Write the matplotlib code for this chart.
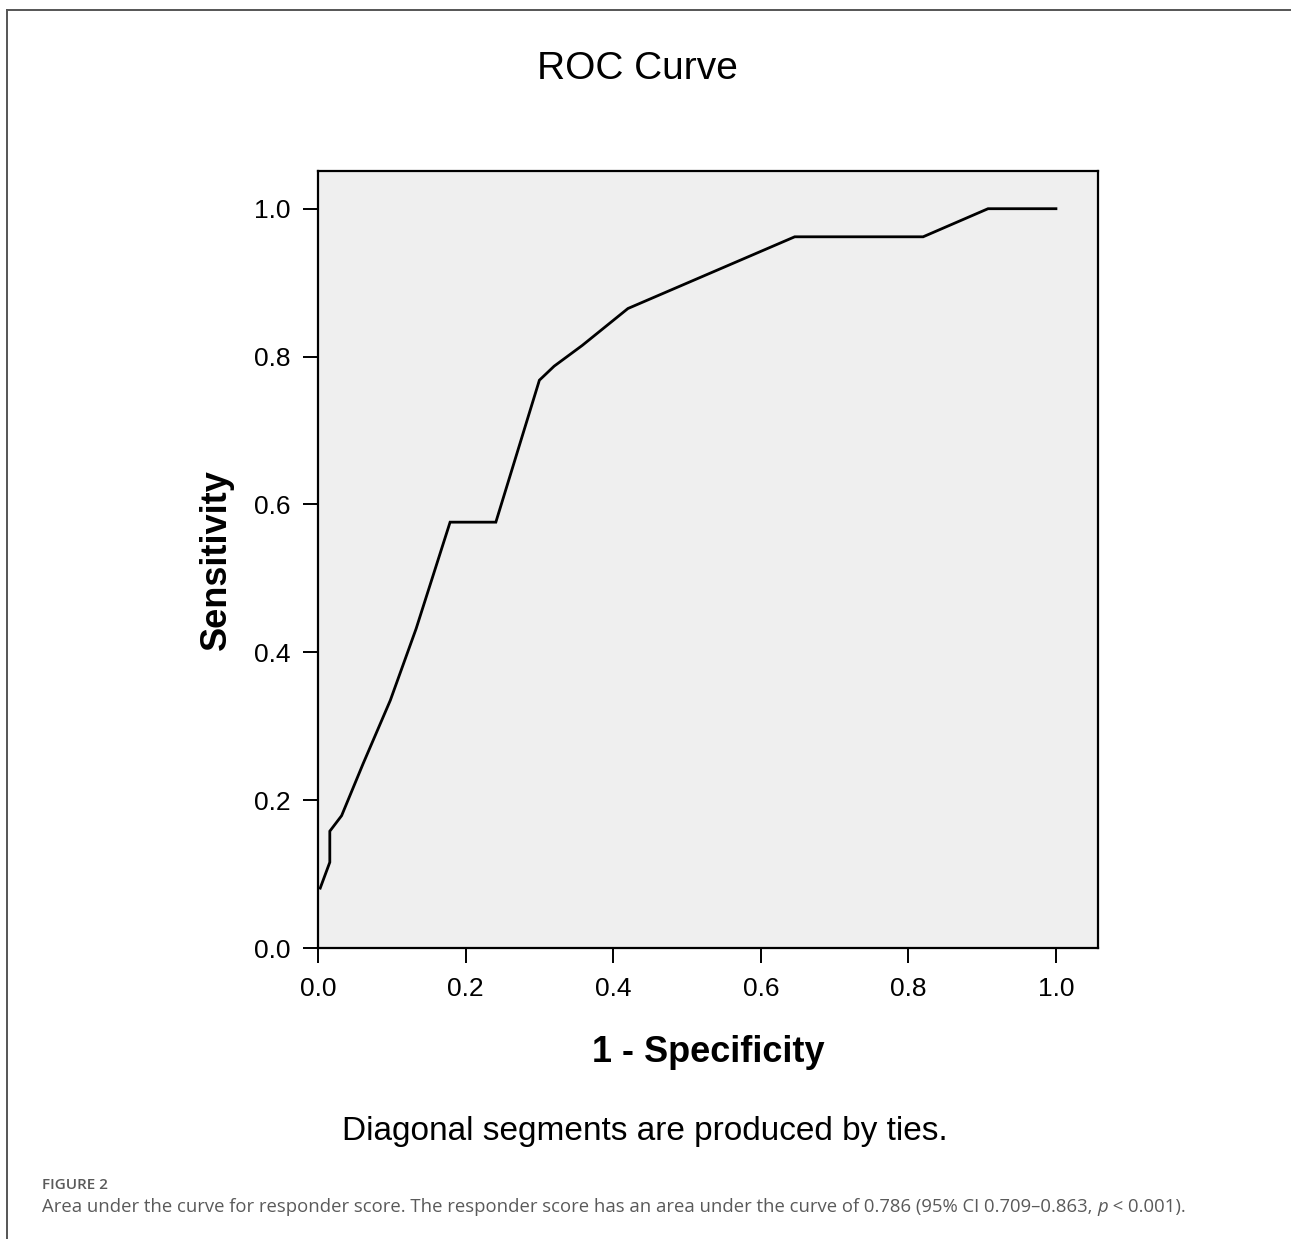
import matplotlib
matplotlib.use("Agg")
import matplotlib.pyplot as plt
from matplotlib.lines import Line2D

# ROC curve points
fpr = [0.003, 0.016, 0.016, 0.032, 0.061, 0.098, 0.133, 0.179, 0.241,
       0.300, 0.320, 0.358, 0.420, 0.646, 0.820, 0.908, 1.000]
tpr = [0.081, 0.116, 0.158, 0.179, 0.249, 0.335, 0.432, 0.576, 0.576,
       0.768, 0.787, 0.815, 0.865, 0.962, 0.962, 1.000, 1.000]

ticks = [0.0, 0.2, 0.4, 0.6, 0.8, 1.0]
tick_labels = ["0.0", "0.2", "0.4", "0.6", "0.8", "1.0"]

title = "ROC Curve"
xlabel = "1 - Specificity"
ylabel = "Sensitivity"
footnote = "Diagonal segments are produced by ties."
fig_tag = "FIGURE 2"
caption = ("Area under the curve for responder score. The responder score has an area "
           "under the curve of 0.786 (95% CI 0.709\u20130.863, ")

W, H = 1291, 1239
plt.rcParams['font.family'] = ['Liberation Sans', 'DejaVu Sans']

fig = plt.figure(figsize=(W / 100, H / 100), dpi=100)


def fx(px):
    return px / W


def fy(py):
    return 1 - py / H


# axes box in pixels: left 318, right 1098, top 171, bottom 948
ax = fig.add_axes([fx(318), fy(948), (1098 - 318) / W, (948 - 171) / H])
ax.set_facecolor("#efefef")
ax.plot(fpr, tpr, color="black", lw=2.0, solid_joinstyle="miter")
ax.set_xlim(0, 1.057)
ax.set_ylim(0, 1.051)
ax.set_xticks(ticks)
ax.set_xticklabels(tick_labels)
ax.set_yticks(ticks)
ax.set_yticklabels(tick_labels)
ax.tick_params(direction="out", length=11, width=1.4, labelsize=19, colors="black")
ax.tick_params(axis="x", pad=10)
ax.tick_params(axis="y", pad=9)
for s in ax.spines.values():
    s.set_linewidth(1.6)
    s.set_color("black")

ax.set_xlabel(xlabel, fontsize=26, fontweight="bold", va="baseline")
ax.xaxis.set_label_coords(0.5, (948 - 1062) / 777)
ax.set_ylabel(ylabel, fontsize=26, fontweight="bold", va="center")
ax.yaxis.set_label_coords((216 - 318) / 780, 0.5)

fig.text(fx(637), fy(79), title, fontsize=28, ha="center", va="baseline")
fig.text(fx(645), fy(1140), footnote, fontsize=24, ha="center", va="baseline")

# caption under the figure
cap_color = "#5a5a5a"
cap_font = ["Open Sans", "DejaVu Sans"]
cap_size = 13.3
fig.text(fx(42), fy(1189), fig_tag, fontsize=11, fontweight="semibold",
         family=cap_font, color=cap_color, va="baseline")
t = fig.text(fx(42), fy(1212), caption, fontsize=cap_size,
             family=cap_font, color=cap_color, va="baseline")
fig.canvas.draw()
bb = t.get_window_extent()
t2 = fig.text(bb.x1 / W, fy(1212), "p", fontsize=cap_size, style="italic",
              family=cap_font, color=cap_color, va="baseline")
bb2 = t2.get_window_extent()
fig.text(bb2.x1 / W, fy(1212), " < 0.001).", fontsize=cap_size,
         family=cap_font, color=cap_color, va="baseline")

# thin frame around the figure panel (top and left)
frame = "#555555"
fig.add_artist(Line2D([fx(7), 1.0], [fy(10), fy(10)], color=frame, lw=1.4))
fig.add_artist(Line2D([fx(7), fx(7)], [fy(10), 0.0], color=frame, lw=1.4))

fig.savefig("out.png", dpi=100)
